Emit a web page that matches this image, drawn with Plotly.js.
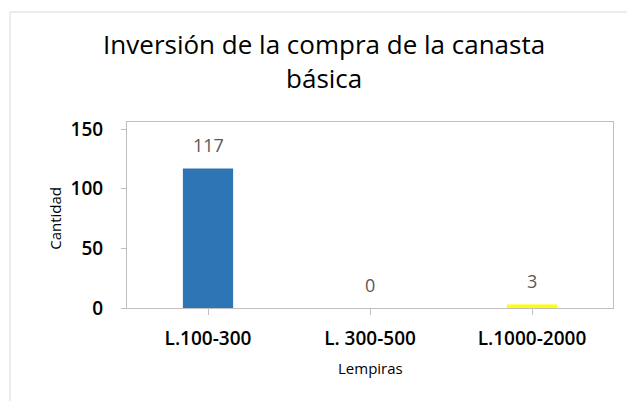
<!DOCTYPE html>
<html>
<head>
<meta charset="utf-8">
<script src="https://cdn.plot.ly/plotly-3.0.1.min.js"></script>
<style>html,body{margin:0;padding:0;background:#fff;}</style>
</head>
<body>
<div id="chart" style="width:627px;height:401px;"></div>
<script>
const categories = ["L.100-300", "L. 300-500", "L.1000-2000"];
const cantidad = [117, 0, 3];
const barColors = ["#2E75B6", "#2E75B6", "#FFFF00"];
const yTicks = [0, 50, 100, 150];

const FONT = "Open Sans, Noto Sans, sans-serif";

const trace = {
  type: "bar",
  x: categories,
  y: cantidad,
  width: 0.31,
  marker: {color: barColors, line: {width: 0}},
  hoverinfo: "none"
};

const annotations = categories.map((c, i) => ({
  x: c, y: cantidad[i], xref: "x", yref: "y",
  text: String(cantidad[i]), showarrow: false,
  yanchor: "middle", yshift: 23,
  font: {family: FONT, size: 18, color: "#595959"}
}));
annotations.push({
  xref: "paper", yref: "paper", x: 0.5, y: -0.325, yanchor: "middle", xanchor: "center",
  text: "Lempiras", showarrow: false, font: {family: FONT, size: 15, color: "#000"}
});
annotations.push({
  xref: "paper", yref: "paper", x: -0.148, y: 0.48, yanchor: "middle", xanchor: "center",
  text: "Cantidad", showarrow: false, textangle: -90, font: {family: FONT, size: 15, color: "#000"}
});

const layout = {
  width: 627, height: 401,
  margin: {l: 127, r: 14, t: 122, b: 93},
  paper_bgcolor: "#fff", plot_bgcolor: "#fff",
  showlegend: false,
  title: {
    text: "Inversión de la compra de la canasta<br>básica",
    font: {family: FONT, size: 26, color: "#000", weight: 500},
    x: 0.517, xanchor: "center", y: 0.865, yanchor: "top", yref: "container"
  },
  xaxis: {
    type: "category",
    showline: true, linecolor: "#bfbfbf", linewidth: 1, mirror: true,
    ticks: "outside", ticklen: 6, tickcolor: "#bfbfbf",
    ticklabelstandoff: 7,
    tickfont: {family: FONT, size: 19, color: "#000", weight: 600},
    showgrid: false, zeroline: false, fixedrange: true
  },
  yaxis: {
    range: [0, 155.9],
    tickvals: yTicks,
    ticktext: yTicks.map(String),
    showline: true, linecolor: "#bfbfbf", linewidth: 1, mirror: true,
    ticks: "outside", ticklen: 5, tickcolor: "#bfbfbf",
    ticklabelstandoff: 14,
    tickfont: {family: FONT, size: 19, color: "#000", weight: 600},
    showgrid: false, zeroline: false, fixedrange: true
  },
  annotations: annotations,
  shapes: [
    {type: "line", xref: "paper", yref: "paper", x0: -0.2407, x1: -0.2407, y0: 1.5914, y1: -0.6, line: {color: "#d9d9d9", width: 1}},
    {type: "line", xref: "paper", yref: "paper", x0: -0.2407, x1: 1.05, y0: 1.5914, y1: 1.5914, line: {color: "#d9d9d9", width: 1}}
  ]
};

Plotly.newPlot("chart", [trace], layout, {displayModeBar: false, staticPlot: true});
</script>
</body>
</html>
